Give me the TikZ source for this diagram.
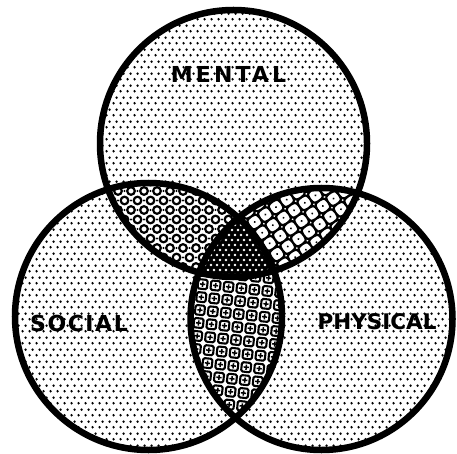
\documentclass[tikz,border=0pt]{standalone}
\usepackage{fontspec}
\newfontfamily\labfont{DejaVu Sans}
\usetikzlibrary{patterns.meta}
\pgfdeclarepattern{
  name=sdots,
  type=uncolored,
  bottom left={\pgfpoint{0pt}{0pt}},
  top right={\pgfpoint{7pt}{12pt}},
  tile size={\pgfpoint{7pt}{12pt}},
  code={
    \pgfpathcircle{\pgfpoint{1.75pt}{3pt}}{1.45pt}
    \pgfpathcircle{\pgfpoint{5.25pt}{9pt}}{1.45pt}
    \pgfusepath{fill}
  }
}
\tikzset{
  outline/.style={line width=6.5pt, draw=black},
  dotfill/.style={pattern=sdots, pattern color=black},
  ring/.style={line width=2.2pt, draw=black},
  motif/.style={line width=2.1pt, draw=black, line join=round},
  label/.style={font=\labfont\bfseries\fontsize{22}{22}\selectfont, inner sep=0pt, text=black}
}
\begin{document}
\begin{tikzpicture}[x=1pt,y=-1pt]
\useasboundingbox (0,0) rectangle (457,454);
\fill[white] (0,0) rectangle (457,454);
\coordinate (T) at (233.5,143.5);
\coordinate (L) at (148.5,316.5);
\coordinate (R) at (321.5,319);
\def\rT{133.5}
\def\rL{133.5}
\def\rR{131}
% single regions: dotted
\path[dotfill] (T) circle[radius=\rT];
\path[dotfill] (L) circle[radius=\rL];
\path[dotfill] (R) circle[radius=\rR];
% Mental & Social: rings
\begin{scope}
  \clip (T) circle[radius=\rT];
  \clip (L) circle[radius=\rL];
  \fill[white] (90,170) rectangle (290,290);
  \foreach \j in {0,...,12}{
    \foreach \i in {0,...,16}{
      \draw[ring] ({92+13*\i+6.5*mod(\j,2)},{172+9.5*\j}) circle[radius=3.8];
      \fill ({98.5+13*\i+6.5*mod(\j,2)},{172+9.5*\j}) circle[radius=1.2];
    }
  }
\end{scope}
% Mental & Physical: concave diamonds
\begin{scope}
  \clip (T) circle[radius=\rT];
  \clip (R) circle[radius=\rR];
  \fill[white] (240,170) rectangle (380,290);
  \begin{scope}[shift={(300,230)}, rotate=35]
  \foreach \j in {-7,...,7}{
    \foreach \i in {-7,...,7}{
      \draw[motif, shift={({13*\i},{13*\j})}]
        (0,-6.5) .. controls (0.6,-0.6) .. (6.5,0) .. controls (0.6,0.6) .. (0,6.5)
        .. controls (-0.6,0.6) .. (-6.5,0) .. controls (-0.6,-0.6) .. cycle;
      \fill[shift={({13*\i+6.5},{13*\j+6.5})}] (0,0) circle[radius=1.1];
    }
  }
  \end{scope}
\end{scope}
% Social & Physical: squares with cross
\begin{scope}
  \clip (L) circle[radius=\rL];
  \clip (R) circle[radius=\rR];
  \fill[white] (180,260) rectangle (295,430);
  \begin{scope}[shift={(236,340)}, rotate=-6]
  \foreach \j in {-7,...,7}{
    \foreach \i in {-5,...,5}{
      \begin{scope}[shift={({13*\i},{13*\j})}]
        \draw[motif, rounded corners=1.5pt] (-4.7,-4.7) rectangle (4.7,4.7);
        \draw[line width=1.5pt] (-2.6,0) -- (2.6,0) (0,-2.6) -- (0,2.6);
      \end{scope}
    }
  }
  \end{scope}
\end{scope}
% all three: dark speckle
\begin{scope}
  \clip (T) circle[radius=\rT];
  \clip (L) circle[radius=\rL];
  \clip (R) circle[radius=\rR];
  \fill[black] (190,220) rectangle (290,290);
  \foreach \j in {0,...,14}{
    \foreach \i in {0,...,20}{
      \fill[white] ({190+6*\i+3*mod(\j,2)},{220+5*\j}) circle[radius=1.3];
    }
  }
\end{scope}
% outlines
\draw[outline] (T) circle[radius=\rT];
\draw[outline] (L) circle[radius=\rL];
\draw[outline] (R) circle[radius=\rR];
% labels
\node[label] (mental) at (228.5,74) {\addfontfeature{LetterSpace=14}MENTAL};
\node[label] (social) at (79,323) {\addfontfeature{LetterSpace=7}SOCIAL};
\node[label] (physical) at (377,322) {\fontsize{21.5}{22}\selectfont PHYSICAL};
\end{tikzpicture}
\end{document}
